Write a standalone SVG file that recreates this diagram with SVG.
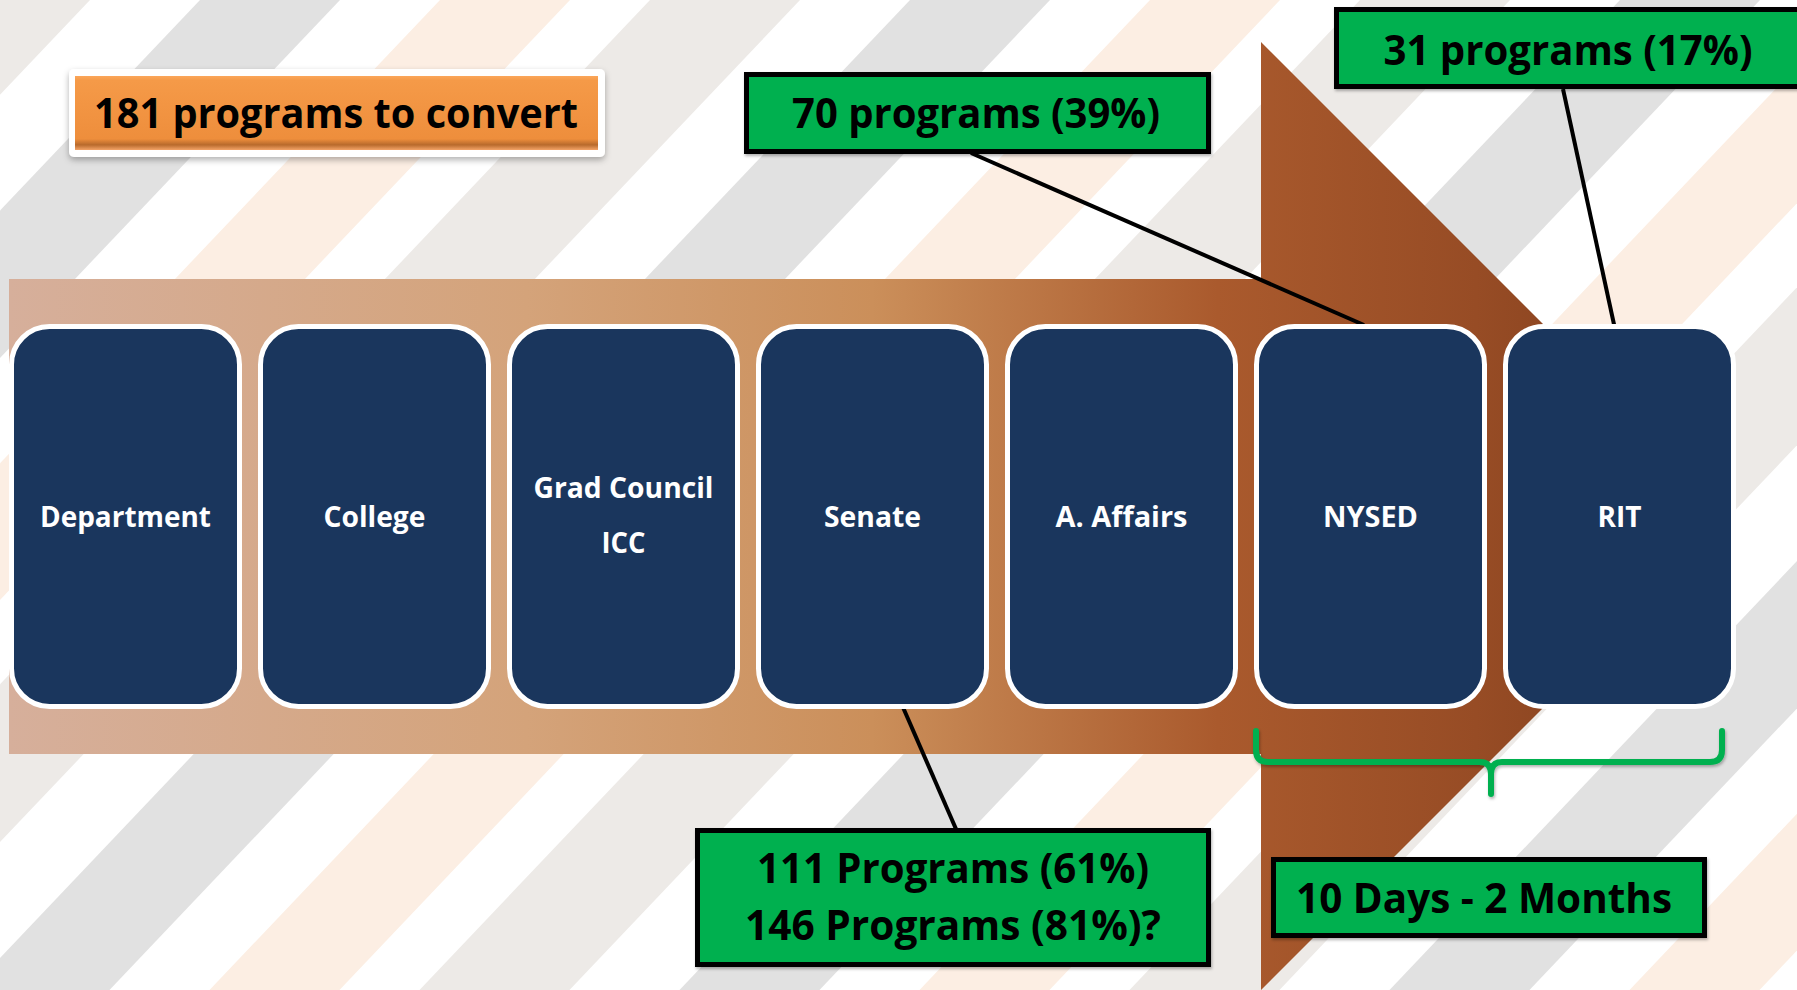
<svg xmlns="http://www.w3.org/2000/svg" width="1797" height="990" viewBox="0 0 1797 990">
  <defs>
    <linearGradient id="arrowGrad" gradientUnits="userSpaceOnUse" x1="9" y1="0" x2="1735" y2="0">
      <stop offset="0" stop-color="#D6AF9B"/>
      <stop offset="0.3" stop-color="#D4A37A"/>
      <stop offset="0.5" stop-color="#CB8F5A"/>
      <stop offset="0.7" stop-color="#AA5A2D"/>
      <stop offset="0.85" stop-color="#974C25"/>
      <stop offset="1" stop-color="#7A3A1A"/>
    </linearGradient>
    <linearGradient id="orangeGrad" x1="0" y1="0" x2="0" y2="1">
      <stop offset="0" stop-color="#FBA65A"/>
      <stop offset="0.06" stop-color="#F59A48"/>
      <stop offset="0.85" stop-color="#EE8E3C"/>
      <stop offset="0.93" stop-color="#B86A2C"/>
      <stop offset="1" stop-color="#F4A468"/>
    </linearGradient>
    <filter id="shadow" x="-10%" y="-20%" width="120%" height="150%">
      <feDropShadow dx="0" dy="3" stdDeviation="3" flood-color="#000" flood-opacity="0.3"/>
    </filter>
    <filter id="soft" x="-5%" y="-10%" width="110%" height="130%">
      <feDropShadow dx="1" dy="2" stdDeviation="1.5" flood-color="#000" flood-opacity="0.3"/>
    </filter>
    <style>
      .lbl{font-family:'Open Sans',Lato,'Liberation Sans',sans-serif;font-weight:700;}
      .ntext{fill:#FFFFFF;font-size:28px;text-anchor:middle}
      .ctext{fill:#000000;font-size:42px;text-anchor:middle}
      .nbox{fill:#1A365D;stroke:#FFFFFF;stroke-width:5}
      .callout{fill:#00B050;stroke:#000000;stroke-width:5}
      .conn{stroke:#000000;stroke-width:4;fill:none;stroke-linecap:butt}
      .cool{fill:#E1E1E1}
      .peach{fill:#FCEEE3}
      .warm{fill:#EDEAE7}
    </style>
  </defs>

  <!-- background -->
  <g id="background">
    <rect x="0" y="0" width="1797" height="990" fill="#FFFFFF"/>
    <polygon class="warm" points="-60,0 90,0 -850.5,990 -1000.5,990"/>
    <polygon class="cool" points="200,0 340,0 -600.5,990 -740.5,990"/>
    <polygon class="peach" points="440,0 570,0 -370.5,990 -500.5,990"/>
    <polygon class="warm" points="650,0 800,0 -140.5,990 -290.5,990"/>
    <polygon class="cool" points="910,0 1050,0 109.5,990 -30.5,990"/>
    <polygon class="peach" points="1150,0 1280,0 339.5,990 209.5,990"/>
    <polygon class="warm" points="1360,0 1510,0 569.5,990 419.5,990"/>
    <polygon class="cool" points="1620,0 1760,0 819.5,990 679.5,990"/>
    <polygon class="peach" points="1860,0 1990,0 1049.5,990 919.5,990"/>
    <polygon class="warm" points="2070,0 2220,0 1279.5,990 1129.5,990"/>
    <polygon class="cool" points="2330,0 2470,0 1529.5,990 1389.5,990"/>
    <polygon class="peach" points="2570,0 2700,0 1759.5,990 1629.5,990"/>
  </g>

  <!-- big process arrow -->
  <g id="arrow">
    <polygon points="9,279 1261,279 1261,42 1735,516 1261,990 1261,754 9,754" fill="url(#arrowGrad)"/>
  </g>

  <!-- title box -->
  <g id="title">
    <rect x="69" y="69" width="536" height="88" rx="5" fill="#FFFFFF" filter="url(#shadow)"/>
    <rect x="75" y="76" width="523" height="74" fill="url(#orangeGrad)"/>
    <text class="lbl ctext" x="336" y="128" textLength="484" lengthAdjust="spacingAndGlyphs">181 programs to convert</text>
  </g>

  <!-- connectors -->
  <g id="connectors">
    <line class="conn" x1="971" y1="153" x2="1364" y2="325"/>
    <line class="conn" x1="1563" y1="89" x2="1615" y2="329"/>
    <line class="conn" x1="902" y1="705" x2="956" y2="829"/>
    <path d="M1256,731 L1256,750 Q1256,762 1268,762 L1480,762 Q1491,762 1491,774 L1491,794 M1491,774 Q1491,762 1502,762 L1710,762 Q1722,762 1722,750 L1722,731" fill="none" stroke="#00B050" stroke-width="6" stroke-linecap="round" stroke-linejoin="round" filter="url(#soft)"/>
  </g>

  <!-- process nodes -->
  <g id="node-department">
    <rect class="nbox" x="11.5" y="326.5" width="228" height="380" rx="38"/>
    <text class="lbl ntext" x="125.5" y="527" textLength="171" lengthAdjust="spacingAndGlyphs">Department</text>
  </g>
  <g id="node-college">
    <rect class="nbox" x="260.5" y="326.5" width="228" height="380" rx="38"/>
    <text class="lbl ntext" x="374.5" y="527" textLength="102" lengthAdjust="spacingAndGlyphs">College</text>
  </g>
  <g id="node-gradcouncil">
    <rect class="nbox" x="509.5" y="326.5" width="228" height="380" rx="38"/>
    <text class="lbl ntext" x="623.5" y="498" textLength="180" lengthAdjust="spacingAndGlyphs">Grad Council</text>
    <text class="lbl ntext" x="623.5" y="553" textLength="44" lengthAdjust="spacingAndGlyphs">ICC</text>
  </g>
  <g id="node-senate">
    <rect class="nbox" x="758.5" y="326.5" width="228" height="380" rx="38"/>
    <text class="lbl ntext" x="872.5" y="527" textLength="97" lengthAdjust="spacingAndGlyphs">Senate</text>
  </g>
  <g id="node-aaffairs">
    <rect class="nbox" x="1007.5" y="326.5" width="228" height="380" rx="38"/>
    <text class="lbl ntext" x="1121.5" y="527" textLength="132" lengthAdjust="spacingAndGlyphs">A. Affairs</text>
  </g>
  <g id="node-nysed">
    <rect class="nbox" x="1256.5" y="326.5" width="228" height="380" rx="38"/>
    <text class="lbl ntext" x="1370.5" y="527" textLength="95" lengthAdjust="spacingAndGlyphs">NYSED</text>
  </g>
  <g id="node-rit">
    <rect class="nbox" x="1505.5" y="326.5" width="228" height="380" rx="38"/>
    <text class="lbl ntext" x="1619.5" y="527" textLength="44" lengthAdjust="spacingAndGlyphs">RIT</text>
  </g>

  <!-- callouts -->
  <g id="callout-70">
    <rect class="callout" x="746.5" y="74.5" width="462" height="77" filter="url(#soft)"/>
    <text class="lbl ctext" x="976" y="128" textLength="368" lengthAdjust="spacingAndGlyphs">70 programs (39%)</text>
  </g>
  <g id="callout-31">
    <rect class="callout" x="1336.5" y="9.5" width="470" height="77" filter="url(#soft)"/>
    <text class="lbl ctext" x="1568" y="65" textLength="369" lengthAdjust="spacingAndGlyphs">31 programs (17%)</text>
  </g>
  <g id="callout-111">
    <rect class="callout" x="697.5" y="830.5" width="511" height="134" filter="url(#soft)"/>
    <text class="lbl ctext" x="953" y="883" textLength="392" lengthAdjust="spacingAndGlyphs">111 Programs (61%)</text>
    <text class="lbl ctext" x="953" y="940" textLength="416" lengthAdjust="spacingAndGlyphs">146 Programs (81%)?</text>
  </g>
  <g id="callout-time">
    <rect class="callout" x="1273.5" y="859.5" width="431" height="76" filter="url(#soft)"/>
    <text class="lbl ctext" x="1484" y="913" textLength="376" lengthAdjust="spacingAndGlyphs">10 Days - 2 Months</text>
  </g>
</svg>
